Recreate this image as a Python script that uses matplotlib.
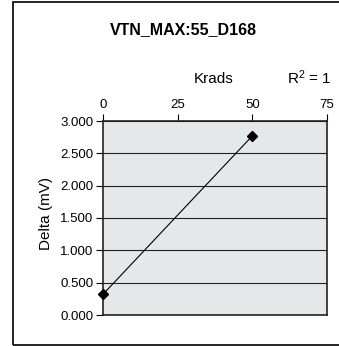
import matplotlib.pyplot as plt
from matplotlib.patches import Rectangle

plt.rcParams['font.family'] = ['Liberation Sans', 'DejaVu Sans']

# dose (Krads) vs measured delta (mV)
krads = [0, 50]
delta = [0.32, 2.77]

x_ticks = [0, 25, 50, 75]
y_ticks = [0.0, 0.5, 1.0, 1.5, 2.0, 2.5, 3.0]

W, H = 339, 346
fig = plt.figure(figsize=(W / 100, H / 100), dpi=100)
fig.patch.set_facecolor('white')

# outer chart frame
fig.add_artist(Rectangle((13 / W, 1 - 345 / H), (W + 5 - 13) / W, (345 - 2) / H,
                         transform=fig.transFigure, fill=False,
                         edgecolor='black', lw=1.2))

# plot area in pixels: left 103, right 327, top 121, bottom 315
ax = fig.add_axes([103 / W, 1 - 315 / H, (327 - 103) / W, (315 - 121) / H])
ax.set_facecolor('#E4E8E8')

ax.plot(krads, delta, color='black', lw=0.8, marker='D', markersize=5.5,
        zorder=3, clip_on=False)

ax.set_xlim(0, 75)
ax.set_ylim(0, 3.0)
ax.set_xticks(x_ticks)
ax.set_yticks(y_ticks)
ax.set_yticklabels(['%.3f' % v for v in y_ticks])
ax.xaxis.tick_top()
ax.tick_params(axis='both', labelsize=9.5, length=5, width=0.8, color='black')
ax.tick_params(axis='x', pad=2)
ax.tick_params(axis='y', pad=2)
ax.yaxis.grid(True, color='#222222', lw=0.8)
ax.set_axisbelow(True)
for s in ax.spines.values():
    s.set_linewidth(1.2)
    s.set_color('#222222')

fig.text(46 / W, 1 - 214 / H, 'Delta (mV)', rotation=90, ha='center',
         va='center', fontsize=11)
fig.text(183 / W, 1 - 30 / H, 'VTN_MAX:55_D168', ha='center', va='center',
         fontsize=11.5, fontweight='bold')
fig.text(214 / W, 1 - 79 / H, 'Krads', ha='center', va='center', fontsize=11)
fig.text(309 / W, 1 - 78 / H, '$\\mathregular{R^2}$ = 1', ha='center',
         va='center', fontsize=11)

fig.savefig('out.png', dpi=100)
